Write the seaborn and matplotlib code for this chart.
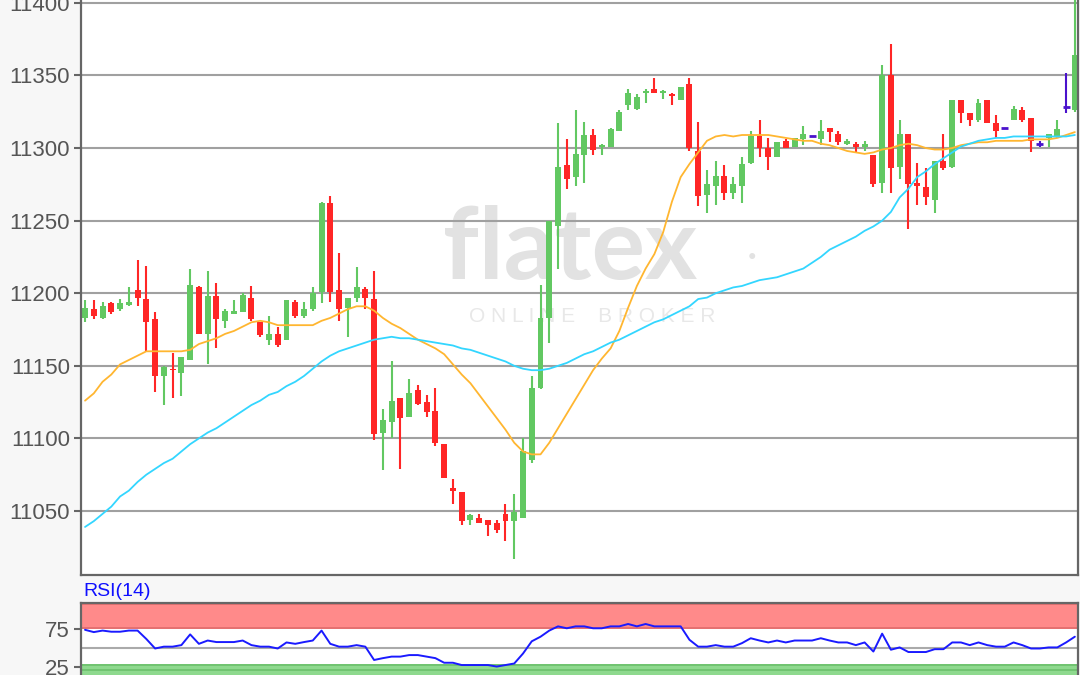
import numpy as np
import pandas as pd
import matplotlib
matplotlib.use("Agg")
import matplotlib.pyplot as plt
import seaborn as sns

# candle data
opens = [11183, 11189, 11183, 11193, 11189, 11192, 11202, 11196, 11182, 11143,
         11148, 11145, 11154, 11204, 11172, 11198, 11181, 11186, 11187, 11197,
         11180, 11168, 11172, 11168, 11194, 11184, 11189, 11201, 11262, 11202,
         11190, 11197, 11203, 11196, 11104, 11111, 11128, 11115, 11133, 11125,
         11119, 11096, 11066, 11063, 11044, 11045, 11044, 11042, 11048, 11043,
         11045, 11085, 11135, 11183, 11246, 11288, 11280, 11295, 11309, 11301,
         11301, 11312, 11330, 11327, 11338, 11341, 11338, 11337, 11333, 11344,
         11298, 11268, 11274, 11281, 11269, 11274, 11290, 11308, 11300, 11294,
         11305, 11301, 11306, 11308, 11306, 11314, 11310, 11303, 11303, 11301,
         11295, 11276, 11350, 11287, 11310, 11276, 11273, 11264, 11291, 11287,
         11333, 11324, 11319, 11333, 11317, 11314, 11319, 11326, 11321, 11303,
         11307, 11308, 11328, 11326]
highs = [11195, 11195, 11194, 11194, 11196, 11204, 11223, 11219, 11187, 11150,
         11159, 11156, 11217, 11205, 11215, 11207, 11189, 11195, 11200, 11205,
         11180, 11184, 11177, 11195, 11195, 11194, 11204, 11263, 11267, 11228,
         11197, 11218, 11204, 11215, 11120, 11153, 11128, 11141, 11137, 11130,
         11135, 11096, 11072, 11063, 11048, 11048, 11044, 11044, 11055, 11062,
         11100, 11143, 11206, 11250, 11317, 11306, 11326, 11318, 11313, 11303,
         11314, 11326, 11341, 11337, 11341, 11348, 11340, 11338, 11342, 11348,
         11318, 11285, 11291, 11288, 11280, 11294, 11312, 11319, 11307, 11304,
         11306, 11307, 11315, 11308, 11319, 11314, 11312, 11306, 11304, 11305,
         11295, 11357, 11372, 11319, 11310, 11290, 11286, 11291, 11310, 11333,
         11333, 11324, 11334, 11333, 11323, 11314, 11329, 11328, 11321, 11305,
         11310, 11319, 11352, 11410]
lows = [11180, 11182, 11182, 11186, 11188, 11191, 11191, 11160, 11132, 11123,
        11128, 11129, 11154, 11172, 11151, 11162, 11176, 11186, 11187, 11181,
        11170, 11164, 11163, 11168, 11183, 11183, 11188, 11193, 11194, 11181,
        11170, 11194, 11189, 11099, 11078, 11100, 11079, 11115, 11123, 11115,
        11095, 11073, 11055, 11040, 11040, 11042, 11033, 11035, 11029, 11017,
        11045, 11083, 11134, 11166, 11217, 11272, 11274, 11276, 11295, 11295,
        11301, 11312, 11326, 11326, 11331, 11338, 11334, 11330, 11333, 11298,
        11260, 11255, 11261, 11264, 11265, 11262, 11289, 11294, 11285, 11294,
        11300, 11301, 11302, 11308, 11302, 11304, 11302, 11302, 11297, 11298,
        11273, 11269, 11269, 11279, 11244, 11261, 11261, 11255, 11285, 11286,
        11317, 11315, 11318, 11317, 11307, 11314, 11319, 11318, 11297, 11301,
        11301, 11307, 11324, 11325]
closes = [11190, 11184, 11191, 11187, 11193, 11194, 11197, 11180, 11143, 11149,
          11147, 11156, 11206, 11172, 11198, 11182, 11188, 11188, 11199, 11182,
          11171, 11172, 11164, 11195, 11184, 11189, 11200, 11262, 11201, 11189,
          11197, 11204, 11197, 11103, 11113, 11126, 11114, 11131, 11124, 11118,
          11097, 11073, 11064, 11043, 11047, 11042, 11040, 11037, 11043, 11049,
          11091, 11135, 11183, 11250, 11287, 11279, 11296, 11309, 11299, 11302,
          11313, 11325, 11338, 11335, 11339, 11338, 11339, 11336, 11342, 11300,
          11267, 11275, 11281, 11269, 11275, 11289, 11308, 11300, 11294, 11304,
          11300, 11307, 11310, 11308, 11312, 11311, 11304, 11305, 11301, 11302.5,
          11275, 11350, 11286, 11310, 11275, 11274, 11266, 11291, 11286, 11333,
          11324, 11319, 11331, 11317, 11312, 11314, 11327, 11319, 11305, 11303,
          11310, 11313, 11328, 11364]

# moving averages
ma_short = [11126, 11131, 11139, 11144, 11151, 11154, 11157, 11160, 11160, 11160,
            11160, 11160, 11161, 11165, 11167, 11169, 11172, 11174, 11177, 11180,
            11181, 11180, 11178, 11178, 11178, 11178, 11178, 11181, 11183, 11186,
            11189, 11191, 11191, 11188, 11183, 11179, 11176, 11172, 11168, 11165,
            11162, 11158, 11151, 11144, 11138, 11130, 11122, 11114, 11106, 11097,
            11091, 11089, 11089, 11097, 11107, 11117, 11127, 11137, 11147, 11155,
            11162, 11174, 11190, 11205, 11217, 11227, 11242, 11263, 11280, 11289,
            11297, 11305, 11308, 11309, 11308, 11309, 11309, 11309, 11309, 11308,
            11307, 11306, 11305, 11305, 11303, 11302, 11300, 11298, 11297, 11296,
            11297, 11299, 11300, 11302, 11303, 11302, 11300, 11299, 11299, 11300,
            11302, 11303, 11304, 11304, 11305, 11305, 11305, 11305, 11306, 11306,
            11306, 11307, 11309, 11311]
ma_long = [11039, 11043, 11048, 11053, 11060, 11064, 11070, 11075, 11079, 11083,
           11086, 11091, 11096, 11100, 11104, 11107, 11111, 11115, 11119, 11123,
           11126, 11130, 11132, 11136, 11139, 11143, 11148, 11153, 11157, 11160,
           11162, 11164, 11166, 11168, 11169, 11170, 11169, 11169, 11168, 11167,
           11166, 11165, 11164, 11162, 11161, 11159, 11157, 11155, 11153, 11150,
           11148, 11147, 11147, 11148, 11150, 11152, 11155, 11158, 11160, 11163,
           11166, 11168, 11171, 11174, 11177, 11180, 11182, 11185, 11188, 11191,
           11196, 11197, 11200, 11202, 11204, 11205, 11207, 11209, 11210, 11211,
           11213, 11215, 11217, 11221, 11225, 11230, 11233, 11236, 11239, 11243,
           11246, 11250, 11256, 11266, 11272, 11280, 11284, 11289, 11293, 11297,
           11301, 11303, 11305, 11306, 11307, 11307, 11308, 11308, 11308, 11308,
           11308, 11308, 11308, 11309]
rsi = [74, 71, 73, 71.5, 71.5, 73, 73, 62, 49.6, 52,
       52, 54, 68, 55.7, 60, 58, 58, 58, 60, 54,
       52, 52, 49.6, 57.5, 55.7, 58, 60, 73, 55.7, 52,
       52, 54, 52, 34.6, 37, 39, 39, 41, 41, 39,
       37, 31, 31, 28, 28, 28, 28, 26, 28, 30,
       43, 59, 65, 73, 78.5, 76, 78.5, 78.5, 76, 76,
       78.5, 78.5, 81.6, 78.5, 81.6, 78.5, 78.5, 78.5, 78.5, 61,
       52, 52, 54, 52, 52, 56.6, 63, 60, 57.5, 60,
       57.5, 60, 60, 60, 63, 60, 57.5, 57.5, 54, 57.5,
       45.6, 69, 48, 51, 45, 45, 45, 48.7, 48.7, 57.5,
       57.5, 54, 57.5, 54, 52, 52, 57.5, 54, 49.6, 49.6,
       51, 51, 57.5, 65]

price_ticks = [11050, 11100, 11150, 11200, 11250, 11300, 11350, 11400]
rsi_ticks = [25, 75]

df = pd.DataFrame({"open": opens, "high": highs, "low": lows, "close": closes,
                   "ma_short": ma_short, "ma_long": ma_long, "rsi": rsi})
df["idx"] = np.arange(len(df))

sns.set_theme(style="white")
plt.rcParams["font.family"] = ["Liberation Sans", "DejaVu Sans"]

W, H = 1080, 675
fig = plt.figure(figsize=(W / 100, H / 100), dpi=100, facecolor="#f7f7f7")
ax = fig.add_axes([81 / W, 100 / H, 997 / W, 575 / H])
ax.set_facecolor("white")

GREEN, RED, PURPLE = "#62c862", "#ff2626", "#4a12cc"
up = df[df["close"] > df["open"]]
down = df[df["close"] < df["open"]]
flat = df[df["close"] == df["open"]]
for sub, col in [(up, GREEN), (down, RED), (flat, PURPLE)]:
    ax.vlines(sub["idx"], sub["low"], sub["high"], color=col, lw=1.5, zorder=2)
for sub, col in [(up, GREEN), (down, RED)]:
    ax.bar(sub["idx"], sub["close"] - sub["open"], bottom=sub["open"],
           width=0.68, color=col, linewidth=0, zorder=2)
ax.hlines(flat["open"], flat["idx"] - 0.4, flat["idx"] + 0.4, color=PURPLE, lw=2, zorder=2)

sns.lineplot(data=df, x="idx", y="ma_short", color="#ffb630", lw=1.3, ax=ax, zorder=3)
sns.lineplot(data=df, x="idx", y="ma_long", color="#33d6ff", lw=1.3, ax=ax, zorder=3)

# watermark
ax.text(570 / W, 1 - 250 / H, "flatex", transform=fig.transFigure, ha="center", va="center",
        fontsize=72, color="#e2e2e2", family="Lato", fontweight="bold", zorder=0.5)
ax.text(752 / W, 1 - 256 / H, "●", transform=fig.transFigure, ha="center", va="center",
        fontsize=10, color="#e2e2e2", zorder=0.5)
ax.text(592 / W, 1 - 317 / H, "O N L I N E    B R O K E R", transform=fig.transFigure,
        ha="center", va="center", fontsize=15, color="#e8e8e8", zorder=0.5)

ax.set_xlim(-0.46, 113.36)
ax.set_ylim(11005.9, 11402)
ax.set_yticks(price_ticks)
ax.grid(axis="y", color="#a0a0a0", lw=1.5, zorder=1)
ax.set_axisbelow(True)
ax.set_xticks([])
ax.set_xlabel("")
ax.set_ylabel("")
ax.tick_params(axis="y", left=True, length=5, width=1.5, color="#666666",
               labelsize=16, labelcolor="#555555", pad=3)
ax.spines["top"].set_visible(False)
for s in ["left", "bottom", "right"]:
    ax.spines[s].set_color("#666666")
    ax.spines[s].set_linewidth(1.6)

# RSI panel
ax2 = fig.add_axes([81 / W, 0, 997 / W, 72 / H])
ax2.set_facecolor("white")
ax2.axhspan(75.5, 109, facecolor="#ff8a8a", edgecolor="none", zorder=0)
ax2.axhline(107.5, color="#e06c6c", lw=1.2, zorder=0.6)
ax2.axhline(76.5, color="#e06c6c", lw=1.2, zorder=0.6)
ax2.axhspan(0, 29, facecolor="#8ed98e", edgecolor="none", zorder=0)
ax2.axhline(28, color="#6cc06c", lw=1.2, zorder=0.6)
ax2.axhline(21, color="#6cc06c", lw=1.2, zorder=0.6)
ax2.axhline(50, color="#aaaaaa", lw=1.5, zorder=0.6)
sns.lineplot(data=df, x="idx", y="rsi", color="#1a1aff", lw=1.4, ax=ax2, zorder=3)
ax2.set_xlim(-0.46, 113.36)
ax2.set_ylim(15, 109)
ax2.set_yticks(rsi_ticks)
ax2.set_xticks([])
ax2.set_xlabel("")
ax2.set_ylabel("")
ax2.tick_params(axis="y", left=True, length=5, width=1.5, color="#666666",
                labelsize=16, labelcolor="#555555", pad=3)
ax2.spines["bottom"].set_visible(False)
for s in ["left", "top", "right"]:
    ax2.spines[s].set_color("#666666")
    ax2.spines[s].set_linewidth(1.6)

fig.text(83 / W, 1 - 592 / H, "RSI(14)", ha="left", va="center", fontsize=14, color="#1010ff")

fig.savefig("out.png", dpi=100, facecolor=fig.get_facecolor())
